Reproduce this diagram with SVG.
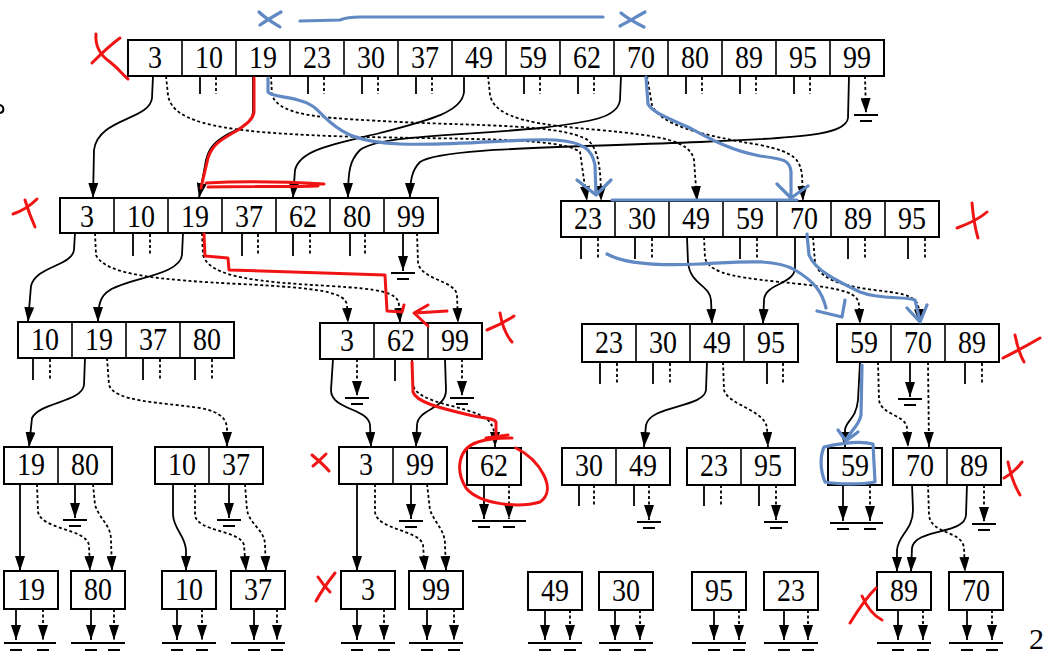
<svg xmlns="http://www.w3.org/2000/svg" width="1045" height="653" viewBox="0 0 1045 653">
<style>
.box{fill:#fff;stroke:#000;stroke-width:2}
.dv{fill:none;stroke:#000;stroke-width:1.6}
.t{font-family:"Liberation Serif","Times New Roman",serif;font-size:28px;text-anchor:middle;fill:#000}
.s{fill:none;stroke:#000;stroke-width:1.8}
.d{fill:none;stroke:#000;stroke-width:1.8;stroke-dasharray:3 2.5}
.g{fill:none;stroke:#000;stroke-width:2}
.red{fill:none;stroke:#f01414;stroke-width:3;stroke-linecap:round;stroke-linejoin:round}
.blue{fill:none;stroke:#6189c4;stroke-width:3.2;stroke-linecap:round;stroke-linejoin:round}
</style>
<defs>
<marker id="ah" viewBox="0 0 15 10" refX="15" refY="5" markerWidth="15" markerHeight="10" markerUnits="userSpaceOnUse" orient="auto">
<path d="M0,0 L15,5 L0,10 Z" fill="#000"/>
</marker>
</defs>
<rect width="1045" height="653" fill="#fff"/>

<g id="connectors">
<!-- top row stubs -->
<path class="s" d="M200,77v17 M308,77v17 M362,77v17 M416,77v17 M524,77v17 M578,77v17 M686,77v17 M740,77v17 M794,77v17"/>
<path class="d" d="M216,77v17 M324,77v17 M378,77v17 M432,77v17 M540,77v17 M594,77v17 M702,77v17 M756,77v17 M810,77v17"/>
<!-- top row pointers -->
<path class="s" marker-end="url(#ah)" d="M153,76 L152,98 C150,120 98,118 94,150 L93,198"/>
<path class="d" marker-end="url(#ah)" d="M166,76 L168,95 C172,125 230,132 330,136 C450,140 560,136 580,152 L587,201"/>
<path class="s" marker-end="url(#ah)" d="M253,76 L253,112 C252,124 240,128 228,134 C214,142 209,148 206,160 L199,198"/>
<path class="d" marker-end="url(#ah)" d="M271,76 L272,95 C280,118 330,118 400,122 C480,126 560,124 588,140 C598,150 601,165 601,201"/>
<path class="s" marker-end="url(#ah)" d="M464,76 L464,92 C462,112 430,120 380,133 C330,145 300,150 295,170 L293,198"/>
<path class="d" marker-end="url(#ah)" d="M488,76 L490,95 C495,120 540,125 600,130 C660,136 690,140 694,160 L697,201"/>
<path class="s" marker-end="url(#ah)" d="M621,76 L620,100 C618,118 590,122 540,128 C460,136 380,135 360,150 C350,160 348,170 348,198"/>
<path class="d" marker-end="url(#ah)" d="M647,76 L652,105 C660,125 700,135 760,145 C795,152 800,160 802,175 L803,201"/>
<path class="s" marker-end="url(#ah)" d="M849,76 L848,118 C846,135 800,138 700,142 C550,148 440,148 420,162 C412,170 410,180 410,198"/>
<path class="d" marker-end="url(#ah)" d="M865,76 L866,113"/>
<path class="g" d="M854,115h24 M860,121h12"/>

<!-- L2 left stubs and pointers -->
<path class="s" d="M133,234v22 M242,234v22 M293,234v22 M350,234v22"/>
<path class="d" d="M150,234v22 M258,234v22 M310,234v22 M365,234v22"/>
<path class="s" marker-end="url(#ah)" d="M75,233 L74,250 C72,266 36,266 31,286 L28,322"/>
<path class="d" marker-end="url(#ah)" d="M95,233 L96,255 C105,275 160,280 240,284 C320,288 345,292 347,305 L348,323"/>
<path class="s" marker-end="url(#ah)" d="M183,233 L182,255 C180,275 130,278 110,290 C100,296 98,305 98,322"/>
<path class="d" marker-end="url(#ah)" d="M202,233 L203,255 C210,278 260,282 330,286 C380,289 398,292 399,305 L400,323"/>
<path class="s" marker-end="url(#ah)" d="M403,234 L403,271"/>
<path class="g" d="M391,273h24 M397,279h12"/>
<path class="d" marker-end="url(#ah)" d="M417,233 L418,262 C420,280 455,280 457,295 L458,323"/>

<!-- L2 right stubs and pointers -->
<path class="s" d="M581,238v21 M635,238v21 M740,238v21 M848,238v21 M908,238v21"/>
<path class="d" d="M598,238v21 M652,238v21 M757,238v21 M865,238v21 M925,238v21"/>
<path class="s" marker-end="url(#ah)" d="M687,237 L688,262 C690,285 710,285 711,300 L712,324"/>
<path class="d" marker-end="url(#ah)" d="M704,237 L705,258 C710,275 740,278 800,284 C845,289 858,293 859,305 L860,324"/>
<path class="s" marker-end="url(#ah)" d="M795,237 L795,268 C794,285 765,283 764,300 L763,324"/>
<path class="d" marker-end="url(#ah)" d="M813,237 L815,262 C820,285 860,288 890,292 C912,295 918,300 919,310 L920,324"/>

<!-- L3 left -->
<path class="s" d="M33,359v21 M143,359v21 M195,359v21"/>
<path class="d" d="M50,359v21 M160,359v21 M212,359v21"/>
<path class="s" marker-end="url(#ah)" d="M85,358 L84,385 C82,402 40,402 32,418 L29,447"/>
<path class="d" marker-end="url(#ah)" d="M107,358 L109,385 C115,402 160,402 200,408 C222,412 227,420 227,430 L227,447"/>

<!-- L3 middle -->
<path class="s" marker-end="url(#ah)" d="M333,359 L331,390 C331,410 368,408 370,425 L371,447"/>
<path class="d" marker-end="url(#ah)" d="M357,359 L357,396"/>
<path class="g" d="M345,398h24 M351,404h12"/>
<path class="s" d="M395,359v22"/>
<path class="d" marker-end="url(#ah)" d="M412,359 L413,385 C418,405 470,405 488,420 C494,427 495,432 495,447"/>
<path class="s" marker-end="url(#ah)" d="M445,359 L446,390 C446,410 418,408 417,425 L416,447"/>
<path class="d" marker-end="url(#ah)" d="M462,359 L462,396"/>
<path class="g" d="M450,398h24 M456,404h12"/>

<!-- L3 right -->
<path class="s" d="M600,363v21 M653,363v21 M767,363v21 M965,363v21"/>
<path class="d" d="M617,363v21 M670,363v21 M783,363v21 M982,363v21"/>
<path class="s" marker-end="url(#ah)" d="M707,362 L706,390 C704,408 650,405 646,425 L644,447"/>
<path class="d" marker-end="url(#ah)" d="M723,362 L724,390 C728,405 765,410 767,428 L768,447"/>
<path class="s" marker-end="url(#ah)" d="M860,362 L858,400 C856,420 846,420 845,430 L845,447"/>
<path class="d" marker-end="url(#ah)" d="M878,362 L879,400 C881,415 906,415 907,428 L908,447"/>
<path class="s" marker-end="url(#ah)" d="M910,362 L910,397"/>
<path class="g" d="M898,399h24 M904,405h12"/>
<path class="d" marker-end="url(#ah)" d="M928,362 L929,447"/>

<!-- L4 -->
<path class="s" marker-end="url(#ah)" d="M20,484 L20,571"/>
<path class="d" marker-end="url(#ah)" d="M37,484 L38,512 C42,530 85,528 89,545 L90,571"/>
<path class="s" marker-end="url(#ah)" d="M75,484 L75,518"/>
<path class="g" d="M63,520h24 M69,526h12"/>
<path class="d" marker-end="url(#ah)" d="M93,484 L95,505 C100,520 111,525 111,540 L112,571"/>
<path class="s" marker-end="url(#ah)" d="M173,484 L173,515 C174,530 185,535 186,550 L186,571"/>
<path class="d" marker-end="url(#ah)" d="M195,484 L195,515 C197,532 240,530 244,545 L246,571"/>
<path class="s" marker-end="url(#ah)" d="M229,484 L229,518"/>
<path class="g" d="M217,520h24 M223,526h12"/>
<path class="d" marker-end="url(#ah)" d="M245,484 L247,510 C250,525 265,530 265,545 L266,571"/>
<path class="s" marker-end="url(#ah)" d="M357,484 L357,571"/>
<path class="d" marker-end="url(#ah)" d="M375,484 L375,512 C377,530 420,530 423,545 L425,571"/>
<path class="s" marker-end="url(#ah)" d="M411,484 L411,519"/>
<path class="g" d="M399,521h24 M405,527h12"/>
<path class="d" marker-end="url(#ah)" d="M427,484 L430,510 C436,525 445,530 445,545 L446,571"/>
<path class="s" marker-end="url(#ah)" d="M484,485 L484,519"/>
<path class="d" marker-end="url(#ah)" d="M509,485 L509,519"/>
<path class="g" d="M472,521h54 M478,527h12 M503,527h12"/>
<path class="s" d="M579,485v21 M634,485v21 M704,485v21 M759,485v21"/>
<path class="d" d="M594,485v21 M721,485v21"/>
<path class="d" marker-end="url(#ah)" d="M649,485 L649,520"/>
<path class="g" d="M637,522h24 M643,528h12"/>
<path class="d" marker-end="url(#ah)" d="M776,485 L776,520"/>
<path class="g" d="M764,522h24 M770,528h12"/>
<path class="s" marker-end="url(#ah)" d="M843,485 L843,521"/>
<path class="d" marker-end="url(#ah)" d="M870,485 L870,521"/>
<path class="g" d="M830,523h53 M837,529h12 M864,529h12"/>
<path class="s" marker-end="url(#ah)" d="M912,484 L913,510 C913,530 898,535 897,550 L897,572"/>
<path class="d" marker-end="url(#ah)" d="M928,484 L929,515 C931,535 962,530 964,548 L965,572"/>
<path class="s" marker-end="url(#ah)" d="M967,484 L966,515 C965,535 915,528 912,548 L911,572"/>
<path class="d" marker-end="url(#ah)" d="M984,485 L984,522"/>
<path class="g" d="M972,524h24 M978,530h12"/>

<!-- L5 bottom pointers -->
<path class="s" marker-end="url(#ah)" d="M16,609v31"/>
<path class="s" marker-end="url(#ah)" d="M91,609v31"/>
<path class="s" marker-end="url(#ah)" d="M177,609v31"/>
<path class="s" marker-end="url(#ah)" d="M254,609v31"/>
<path class="s" marker-end="url(#ah)" d="M357,609v31"/>
<path class="s" marker-end="url(#ah)" d="M427,609v31"/>
<path class="s" marker-end="url(#ah)" d="M545,610v30"/>
<path class="s" marker-end="url(#ah)" d="M615,610v30"/>
<path class="s" marker-end="url(#ah)" d="M714,610v30"/>
<path class="s" marker-end="url(#ah)" d="M784,610v30"/>
<path class="s" marker-end="url(#ah)" d="M898,610v30"/>
<path class="s" marker-end="url(#ah)" d="M967,610v30"/>
<path class="d" marker-end="url(#ah)" d="M43,609v31"/>
<path class="d" marker-end="url(#ah)" d="M114,609v31"/>
<path class="d" marker-end="url(#ah)" d="M202,609v31"/>
<path class="d" marker-end="url(#ah)" d="M277,609v31"/>
<path class="d" marker-end="url(#ah)" d="M384,609v31"/>
<path class="d" marker-end="url(#ah)" d="M454,609v31"/>
<path class="d" marker-end="url(#ah)" d="M570,610v30"/>
<path class="d" marker-end="url(#ah)" d="M640,610v30"/>
<path class="d" marker-end="url(#ah)" d="M739,610v30"/>
<path class="d" marker-end="url(#ah)" d="M808,610v30"/>
<path class="d" marker-end="url(#ah)" d="M923,610v30"/>
<path class="d" marker-end="url(#ah)" d="M992,610v30"/>
<path class="g" d="M4,643h52 M71,643h54 M162,643h54 M231,643h54 M341,643h54 M409,643h54 M528,643h54 M599,643h54 M692,643h54 M764,643h54 M877,643h54 M949,643h54"/>
<path class="g" d="M10,650h12 M37,650h12 M85,650h12 M108,650h12 M171,650h12 M196,650h12 M248,650h12 M271,650h12 M351,650h12 M378,650h12 M421,650h12 M448,650h12 M539,650h12 M564,650h12 M609,650h12 M634,650h12 M708,650h12 M733,650h12 M778,650h12 M802,650h12 M892,650h12 M917,650h12 M961,650h12 M986,650h12"/>
</g>

<g id="n-top">
<rect class="box" x="128" y="40" width="756" height="36"/>
<path class="dv" d="M182,40v36 M236,40v36 M290,40v36 M344,40v36 M398,40v36 M452,40v36 M506,40v36 M560,40v36 M614,40v36 M668,40v36 M722,40v36 M776,40v36 M830,40v36"/>
<text class="t" transform="translate(155,68) scale(1,1.15)">3</text>
<text class="t" transform="translate(209,68) scale(1,1.15)">10</text>
<text class="t" transform="translate(263,68) scale(1,1.15)">19</text>
<text class="t" transform="translate(317,68) scale(1,1.15)">23</text>
<text class="t" transform="translate(371,68) scale(1,1.15)">30</text>
<text class="t" transform="translate(425,68) scale(1,1.15)">37</text>
<text class="t" transform="translate(479,68) scale(1,1.15)">49</text>
<text class="t" transform="translate(533,68) scale(1,1.15)">59</text>
<text class="t" transform="translate(587,68) scale(1,1.15)">62</text>
<text class="t" transform="translate(641,68) scale(1,1.15)">70</text>
<text class="t" transform="translate(695,68) scale(1,1.15)">80</text>
<text class="t" transform="translate(749,68) scale(1,1.15)">89</text>
<text class="t" transform="translate(803,68) scale(1,1.15)">95</text>
<text class="t" transform="translate(857,68) scale(1,1.15)">99</text>
</g>

<g id="n-l2-left">
<rect class="box" x="60" y="198" width="378" height="35"/>
<path class="dv" d="M114,198v35 M168,198v35 M222,198v35 M276,198v35 M330,198v35 M384,198v35"/>
<text class="t" transform="translate(87,227) scale(1,1.15)">3</text>
<text class="t" transform="translate(141,227) scale(1,1.15)">10</text>
<text class="t" transform="translate(195,227) scale(1,1.15)">19</text>
<text class="t" transform="translate(249,227) scale(1,1.15)">37</text>
<text class="t" transform="translate(303,227) scale(1,1.15)">62</text>
<text class="t" transform="translate(357,227) scale(1,1.15)">80</text>
<text class="t" transform="translate(411,227) scale(1,1.15)">99</text>
</g>

<g id="n-l2-right">
<rect class="box" x="561" y="201" width="378" height="36"/>
<path class="dv" d="M615,201v36 M669,201v36 M723,201v36 M777,201v36 M831,201v36 M885,201v36"/>
<text class="t" transform="translate(588,229) scale(1,1.15)">23</text>
<text class="t" transform="translate(642,229) scale(1,1.15)">30</text>
<text class="t" transform="translate(696,229) scale(1,1.15)">49</text>
<text class="t" transform="translate(750,229) scale(1,1.15)">59</text>
<text class="t" transform="translate(804,229) scale(1,1.15)">70</text>
<text class="t" transform="translate(858,229) scale(1,1.15)">89</text>
<text class="t" transform="translate(912,229) scale(1,1.15)">95</text>
</g>

<g id="n-l3-a">
<rect class="box" x="18" y="322" width="216" height="36"/>
<path class="dv" d="M72,322v36 M126,322v36 M180,322v36"/>
<text class="t" transform="translate(45,350) scale(1,1.15)">10</text>
<text class="t" transform="translate(99,350) scale(1,1.15)">19</text>
<text class="t" transform="translate(153,350) scale(1,1.15)">37</text>
<text class="t" transform="translate(207,350) scale(1,1.15)">80</text>
</g>

<g id="n-l3-b">
<rect class="box" x="320" y="323" width="162" height="36"/>
<path class="dv" d="M374,323v36 M428,323v36"/>
<text class="t" transform="translate(347,351) scale(1,1.15)">3</text>
<text class="t" transform="translate(401,351) scale(1,1.15)">62</text>
<text class="t" transform="translate(455,351) scale(1,1.15)">99</text>
</g>

<g id="n-l3-c">
<rect class="box" x="582" y="324" width="216" height="38"/>
<path class="dv" d="M636,324v38 M690,324v38 M744,324v38"/>
<text class="t" transform="translate(609,353) scale(1,1.15)">23</text>
<text class="t" transform="translate(663,353) scale(1,1.15)">30</text>
<text class="t" transform="translate(717,353) scale(1,1.15)">49</text>
<text class="t" transform="translate(771,353) scale(1,1.15)">95</text>
</g>

<g id="n-l3-d">
<rect class="box" x="837" y="324" width="162" height="38"/>
<path class="dv" d="M891,324v38 M945,324v38"/>
<text class="t" transform="translate(864,353) scale(1,1.15)">59</text>
<text class="t" transform="translate(918,353) scale(1,1.15)">70</text>
<text class="t" transform="translate(972,353) scale(1,1.15)">89</text>
</g>

<g id="n-l4-a">
<rect class="box" x="4" y="447" width="108" height="37"/>
<path class="dv" d="M58,447v37"/>
<text class="t" transform="translate(31,475) scale(1,1.15)">19</text>
<text class="t" transform="translate(85,475) scale(1,1.15)">80</text>
</g>
<g id="n-l4-b">
<rect class="box" x="155" y="447" width="108" height="37"/>
<path class="dv" d="M209,447v37"/>
<text class="t" transform="translate(182,475) scale(1,1.15)">10</text>
<text class="t" transform="translate(236,475) scale(1,1.15)">37</text>
</g>
<g id="n-l4-c">
<rect class="box" x="339" y="447" width="108" height="37"/>
<path class="dv" d="M393,447v37"/>
<text class="t" transform="translate(366,475) scale(1,1.15)">3</text>
<text class="t" transform="translate(420,475) scale(1,1.15)">99</text>
</g>
<g id="n-l4-d">
<rect class="box" x="467" y="448" width="54" height="37"/>
<text class="t" transform="translate(494,476) scale(1,1.15)">62</text>
</g>
<g id="n-l4-e">
<rect class="box" x="562" y="448" width="108" height="37"/>
<path class="dv" d="M616,448v37"/>
<text class="t" transform="translate(589,476) scale(1,1.15)">30</text>
<text class="t" transform="translate(643,476) scale(1,1.15)">49</text>
</g>
<g id="n-l4-f">
<rect class="box" x="687" y="448" width="108" height="37"/>
<path class="dv" d="M741,448v37"/>
<text class="t" transform="translate(714,476) scale(1,1.15)">23</text>
<text class="t" transform="translate(768,476) scale(1,1.15)">95</text>
</g>
<g id="n-l4-g">
<rect class="box" x="828" y="448" width="54" height="37"/>
<text class="t" transform="translate(855,476) scale(1,1.15)">59</text>
</g>
<g id="n-l4-h">
<rect class="box" x="893" y="448" width="108" height="37"/>
<path class="dv" d="M947,448v37"/>
<text class="t" transform="translate(920,476) scale(1,1.15)">70</text>
<text class="t" transform="translate(974,476) scale(1,1.15)">89</text>
</g>

<g id="n-l5-19"><rect class="box" x="4" y="571" width="54" height="38"/><text class="t" transform="translate(31,600) scale(1,1.15)">19</text></g>
<g id="n-l5-80"><rect class="box" x="71" y="571" width="54" height="38"/><text class="t" transform="translate(98,600) scale(1,1.15)">80</text></g>
<g id="n-l5-10"><rect class="box" x="162" y="571" width="54" height="38"/><text class="t" transform="translate(189,600) scale(1,1.15)">10</text></g>
<g id="n-l5-37"><rect class="box" x="231" y="571" width="54" height="38"/><text class="t" transform="translate(258,600) scale(1,1.15)">37</text></g>
<g id="n-l5-3"><rect class="box" x="341" y="571" width="54" height="38"/><text class="t" transform="translate(368,600) scale(1,1.15)">3</text></g>
<g id="n-l5-99"><rect class="box" x="409" y="571" width="54" height="38"/><text class="t" transform="translate(436,600) scale(1,1.15)">99</text></g>
<g id="n-l5-49"><rect class="box" x="528" y="572" width="54" height="38"/><text class="t" transform="translate(555,601) scale(1,1.15)">49</text></g>
<g id="n-l5-30"><rect class="box" x="599" y="572" width="54" height="38"/><text class="t" transform="translate(626,601) scale(1,1.15)">30</text></g>
<g id="n-l5-95"><rect class="box" x="692" y="572" width="54" height="38"/><text class="t" transform="translate(719,601) scale(1,1.15)">95</text></g>
<g id="n-l5-23"><rect class="box" x="764" y="572" width="54" height="38"/><text class="t" transform="translate(791,601) scale(1,1.15)">23</text></g>
<g id="n-l5-89"><rect class="box" x="877" y="572" width="54" height="38"/><text class="t" transform="translate(904,601) scale(1,1.15)">89</text></g>
<g id="n-l5-70"><rect class="box" x="949" y="572" width="54" height="38"/><text class="t" transform="translate(976,601) scale(1,1.15)">70</text></g>

<text class="t" x="1029" y="649" style="font-size:30px;text-anchor:start">2</text>
<path d="M0,105 C4,106 5,112 0,113" fill="none" stroke="#000" stroke-width="2"/>

<g id="annot-red">
<path class="red" d="M96,34 C95,45 100,55 110,62 C118,68 122,74 128,79 M92,63 C100,55 110,45 120,38"/>
<path class="red" d="M254,78 L254,112 C253,120 245,125 238,130 C220,140 212,145 208,158 L201,188"/>
<path class="red" d="M206,183 C240,181 290,182 324,184 M208,187 C250,186 290,187 318,186"/>
<path class="red" d="M25,200 C28,210 31,218 35,227 M13,214 C22,211 30,206 37,199"/>
<path class="red" d="M204,234 L205,256 L228,258 L229,270 L385,275 L387,311 L402,312 L404,305"/>
<path class="red" d="M447,311 L415,313 M428,305 L414,313 L428,326"/>
<path class="red" d="M500,313 C502,325 506,335 512,342 M487,330 C495,327 505,322 514,316"/>
<path class="red" d="M412,362 L413,392 C416,402 440,408 465,414 C485,419 494,418 496,422 L496,438 M486,438 L508,435"/>
<path class="red" d="M516,448 C540,460 558,490 540,502 C520,508 480,505 466,488 C455,470 458,448 478,442 C490,438 505,438 512,438"/>
<path class="red" d="M312,455 C318,460 324,465 329,471 M313,466 C318,462 322,458 326,454"/>
<path class="red" d="M316,601 C322,590 328,582 335,573 M318,577 C322,583 326,588 330,592"/>
<path class="red" d="M957,228 C968,224 978,220 987,212 M972,203 C973,215 975,228 978,238"/>
<path class="red" d="M1003,358 C1015,352 1028,345 1040,338 M1015,335 C1017,345 1020,355 1024,362"/>
<path class="red" d="M1004,478 C1010,475 1016,470 1022,462 M1008,462 C1010,472 1014,485 1020,495"/>
<path class="red" d="M850,623 C858,610 866,598 876,588 M862,596 C866,605 872,615 882,620"/>
</g>

<g id="annot-blue">
<path class="blue" d="M259,12 C265,18 272,22 280,27 M260,25 C267,20 274,16 281,12"/>
<path class="blue" d="M621,13 C628,19 636,23 644,27 M620,26 C628,22 636,17 645,12"/>
<path class="blue" d="M300,21 L340,20 C345,18 350,17 360,17 L603,17"/>
<path class="blue" d="M268,78 L268,92 C272,97 285,96 298,100 C315,104 318,112 330,122 C345,135 360,142 400,144 C460,146 520,138 555,140 C585,142 592,150 595,165 L596,195 M577,180 L596,195 L611,180"/>
<path class="blue" d="M646,77 L648,104 C652,112 668,118 690,128 C712,140 730,150 760,156 C784,159 790,160 791,172 L791,197 M777,184 L791,198 L808,186"/>
<path class="blue" d="M612,200 L797,200"/>
<path class="blue" d="M607,254 C625,264 660,266 700,264 C740,262 775,258 795,270 C815,282 822,292 826,308 M817,311 L842,317 L845,300"/>
<path class="blue" d="M807,234 L809,255 C815,270 835,280 860,292 C880,300 905,296 915,300 L920,321 M907,308 L920,322 L927,305"/>
<path class="blue" d="M862,365 L861,415 C859,426 851,430 846,440 M838,430 L846,441 L858,432"/>
<path class="blue" d="M824,447 C842,443 862,441 873,444 L875,482 C860,485 835,484 825,482 C820,470 820,456 824,447 Z"/>
</g>
</svg>
